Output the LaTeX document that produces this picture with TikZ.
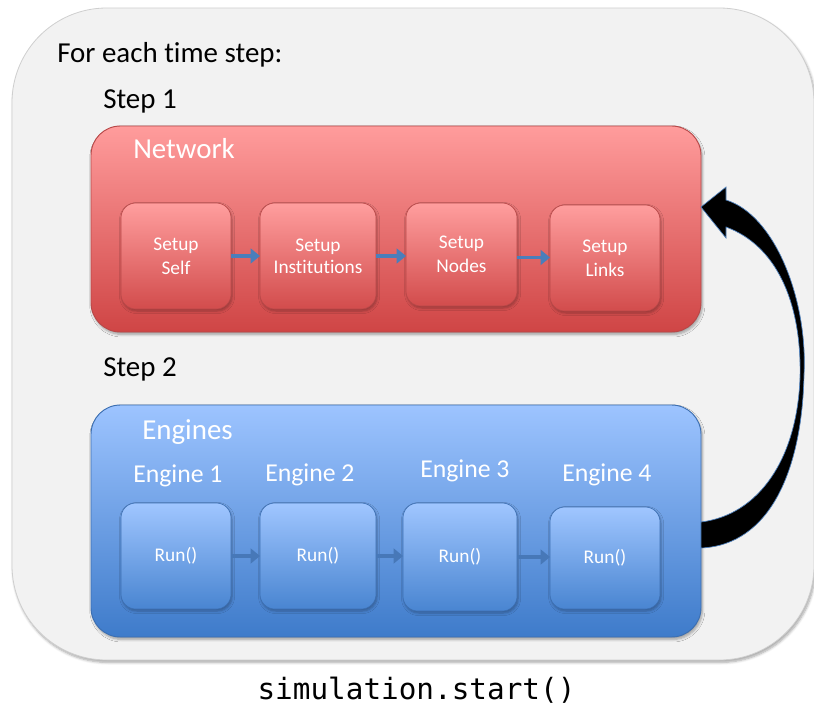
\documentclass[tikz,border=0pt]{standalone}
\usepackage{fontspec}
\setmainfont[Ligatures=NoCommon]{Carlito}
\newfontfamily\codefont{DejaVu Sans Mono}
\usetikzlibrary{arrows.meta,shadows.blur}
\definecolor{outerfill}{HTML}{F2F2F2}
\definecolor{outerline}{HTML}{CFCFCF}
\definecolor{redtop}{HTML}{FF9C9C}
\definecolor{redbot}{HTML}{CF4545}
\definecolor{redline}{HTML}{B84848}
\definecolor{redintop}{HTML}{FF9E9E}
\definecolor{redinbot}{HTML}{D24C4C}
\definecolor{bluetop}{HTML}{9DC4FF}
\definecolor{bluebot}{HTML}{3E7BCA}
\definecolor{blueline}{HTML}{3C6FB2}
\definecolor{blueintop}{HTML}{A0C6FF}
\definecolor{blueinbot}{HTML}{4985D1}
\definecolor{arrowblue}{HTML}{4A7EBB}
\definecolor{arrowmuted}{HTML}{4778B8}
\definecolor{curveline}{HTML}{4F81BD}
\begin{document}
\begin{tikzpicture}[x=0.75pt,y=-0.75pt,
  outerbox/.style={draw=outerline, line width=0.6pt, fill=outerfill, rounded corners=71pt,
    inner sep=0pt, outer sep=0pt,
    blur shadow={shadow xshift=1pt, shadow yshift=-1.8pt, shadow blur steps=6, shadow opacity=35}},
  bigred/.style={draw=redline, line width=0.7pt, top color=redtop, bottom color=redbot,
    rounded corners=22pt, inner sep=0pt, outer sep=0pt,
    minimum width=457.5pt, minimum height=154.5pt,
    blur shadow={shadow xshift=1pt, shadow yshift=-1.8pt, shadow blur steps=6, shadow opacity=35}},
  bigblue/.style={draw=blueline, line width=0.7pt, top color=bluetop, bottom color=bluebot,
    rounded corners=22pt, inner sep=0pt, outer sep=0pt,
    minimum width=457.5pt, minimum height=174pt,
    blur shadow={shadow xshift=1pt, shadow yshift=-1.8pt, shadow blur steps=6, shadow opacity=35}},
  redin/.style={draw=redline, line width=0.5pt, top color=redintop, bottom color=redinbot,
    rounded corners=11pt, inner sep=0pt, outer sep=0pt, text=white, align=center,
    font=\fontsize{14.5}{18}\selectfont,
    blur shadow={shadow xshift=0.8pt, shadow yshift=-1.5pt, shadow blur steps=5, shadow opacity=30}},
  bluein/.style={draw=blueline, line width=0.5pt, top color=blueintop, bottom color=blueinbot,
    rounded corners=11pt, inner sep=0pt, outer sep=0pt, text=white, align=center,
    font=\fontsize{14.5}{18}\selectfont,
    blur shadow={shadow xshift=0.8pt, shadow yshift=-1.5pt, shadow blur steps=5, shadow opacity=30}},
  heading/.style={anchor=base west, inner sep=0pt, font=\fontsize{21.7}{26}\selectfont},
  whitehead/.style={heading, text=white},
  enginelabel/.style={anchor=base west, inner sep=0pt, text=white, font=\fontsize{19.3}{23}\selectfont},
  flowarrow/.style={draw=arrowblue, line width=2.5pt, -{Triangle[length=7pt,width=11pt]}},
  mutedarrow/.style={draw=arrowmuted, line width=2.5pt, -{Triangle[length=7pt,width=11pt]}}
]
\useasboundingbox (0,0) rectangle (814,707);

% outer container
\node[outerbox, minimum width=601.5pt, minimum height=489pt] (outer) at (413,334) {};

% headings
\node[heading] (foreach) at (57,62) {For each time step:};
\node[heading] (step1) at (103,108) {Step 1};
\node[heading] (step2) at (103,376) {Step 2};

% Network box
\node[bigred] (network) at (396,229) {};
\node[whitehead] (nettitle) at (133,158) {Network};

\node[redin, minimum width=82.5pt, minimum height=79.5pt] (s1) at (176,256) {Setup\\Self};
\node[redin, minimum width=87pt, minimum height=79.5pt] (s2) at (318,256) {\raisebox{-4pt}{\shortstack{Setup\\[1pt]Institutions}}};
\node[redin, minimum width=83.25pt, minimum height=77.25pt] (s3) at (461.5,254.5) {Setup\\Nodes};
\node[redin, minimum width=82.5pt, minimum height=79.5pt] (s4) at (605,258) {Setup\\Links};

\draw[flowarrow] (s1.east) -- (s1.east -| s2.west);
\draw[flowarrow] (s2.east) -- (s2.east -| s3.west);
\draw[flowarrow] (s3.east) ++(0,3) coordinate (a3) -- (a3 -| s4.west);

% Engines box
\node[bigblue] (engines) at (396,521) {};
\node[whitehead] (engtitle) at (142,439) {Engines};
\node[enginelabel] (e1) at (133,482) {Engine 1};
\node[enginelabel] (e2) at (265,481) {Engine 2};
\node[enginelabel] (e3) at (420,477) {Engine 3};
\node[enginelabel] (e4) at (562,481) {Engine 4};

\node[bluein, minimum width=82.5pt, minimum height=79.5pt] (r1) at (176,556) {Run()};
\node[bluein, minimum width=87pt, minimum height=79.5pt] (r2) at (318,556) {Run()};
\node[bluein, minimum width=85.5pt, minimum height=81pt] (r3) at (460,557) {Run()};
\node[bluein, minimum width=82.5pt, minimum height=76.5pt] (r4) at (605,558) {Run()};

\draw[mutedarrow] (r1.east) -- (r1.east -| r2.west);
\draw[mutedarrow] (r2.east) -- (r2.east -| r3.west);
\draw[mutedarrow] (r3.east) -- (r3.east -| r4.west);

% big curved return arrow
\fill[black, draw=curveline, line width=0.5pt]
  (726,200) .. controls (775,215) and (808,300) .. (804,375)
  .. controls (802,470) and (770,545) .. (701,548)
  -- (701,522)
  .. controls (758,515) and (797,460) .. (800,378)
  .. controls (802,300) and (775,245) .. (726,227)
  -- (726,238) -- (701,207) -- (726,187) -- cycle;

% caption
\node[inner sep=0pt, font=\codefont\fontsize{22}{26}\selectfont] (caption) at (416.5,690) {simulation.start()};
\end{tikzpicture}
\end{document}
